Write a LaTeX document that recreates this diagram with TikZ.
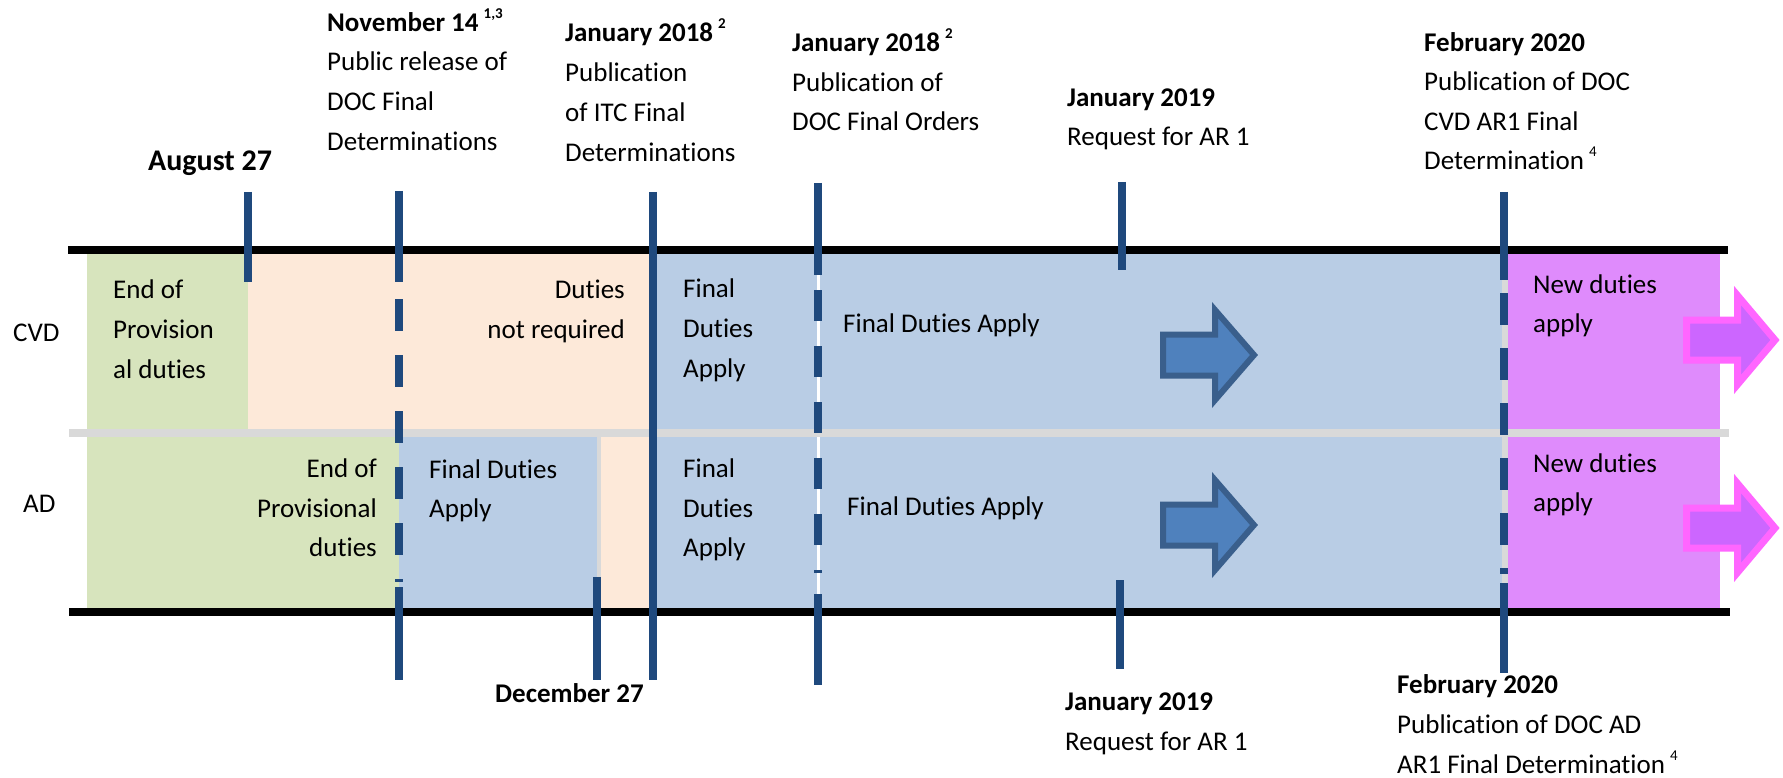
\documentclass[tikz,border=0pt]{standalone}
\usepackage{fontspec}
\setmainfont{Carlito}[Ligatures=NoCommon]
\definecolor{greenbox}{HTML}{D7E4BD}
\definecolor{peachbox}{HTML}{FDE9D9}
\definecolor{bluebox}{HTML}{B9CDE5}
\definecolor{pinkbox}{HTML}{DF8BFC}
\definecolor{tickblue}{HTML}{1F497D}
\definecolor{greyline}{HTML}{D9D9D9}
\definecolor{arrowfill}{HTML}{4F81BD}
\definecolor{arrowedge}{HTML}{3A5F8C}
\definecolor{pinkfill}{HTML}{CC66FF}
\definecolor{pinkedge}{HTML}{FF66FF}
\newcommand\mysup[1]{\hspace{5pt}\raisebox{13pt}{\fontsize{15}{15}\selectfont #1}}
\begin{document}
\begin{tikzpicture}[x=1pt,y=-1pt,
  t/.style={inner sep=0pt, anchor=base west, font=\fontsize{27}{32}\selectfont},
  tr/.style={t, anchor=base east},
  tb/.style={t, font=\fontsize{27}{32}\selectfont\bfseries},
  tick/.style={draw=tickblue, line width=7.5pt},
  band/.style={line width=8pt},
  bluearrow/.style={draw=arrowedge, fill=arrowfill, line width=6pt, line join=miter},
  pinkarrow/.style={draw=pinkedge, fill=pinkfill, line width=7pt, line join=miter}]
\useasboundingbox (0,0) rectangle (1783,778);
% row fills
\fill[greenbox] (87,251) rectangle (248,433);
\fill[peachbox] (248,251) rectangle (653,433);
\fill[bluebox] (653,251) rectangle (1505,433);
\fill[pinkbox] (1505,251) rectangle (1720,433);
\fill[greenbox] (87,433) rectangle (399,610);
\fill[bluebox] (399,433) rectangle (597,610);
\fill[peachbox] (597,433) rectangle (653,610);
\fill[bluebox] (653,433) rectangle (1505,610);
\fill[pinkbox] (1505,433) rectangle (1720,610);
% separators
\draw[white, line width=3pt] (818,254) -- (818,608);
\draw[greyline, line width=6pt] (1505,254) -- (1505,608);
\draw[greyline, line width=4pt] (599,437) -- (599,577);
% horizontal bands
\draw[band, black] (68,250) -- (1728,250);
\draw[band, greyline] (69,433) -- (1729,433);
\draw[band, black] (69,612) -- (1730,612);
% arrows
\foreach \cy in {355,525}{
  \draw[bluearrow] (1163,\cy-20.5) -- (1215,\cy-20.5) -- (1215,\cy-45) -- (1254,\cy) -- (1215,\cy+45) -- (1215,\cy+20.5) -- (1163,\cy+20.5) -- cycle;
}
\foreach \cy in {340,528}{
  \draw[pinkarrow] (1686.5,\cy-20) -- (1737.5,\cy-20) -- (1737.5,\cy-44.5) -- (1775,\cy) -- (1737.5,\cy+44.5) -- (1737.5,\cy+20) -- (1686.5,\cy+20) -- cycle;
}
% ticks
\draw[tick] (248,192) -- (248,282);
\draw[tick] (399,191) -- (399,282);
\draw[tick, dash pattern=on 32pt off 24pt] (399,299) -- (399,582);
\draw[tick] (399,587) -- (399,680);
\draw[tick] (597,577) -- (597,680);
\draw[tick] (653,192) -- (653,680);
\draw[tick] (818,183) -- (818,275);
\draw[tick, dash pattern=on 31pt off 25pt] (818,290) -- (818,573);
\draw[tick] (818,594) -- (818,685);
\draw[tick] (1122,182) -- (1122,270);
\draw[tick] (1120,580) -- (1120,669);
\draw[tick] (1504,192) -- (1504,280);
\draw[tick, dash pattern=on 32pt off 23pt] (1504,293) -- (1504,574);
\draw[tick] (1504,583) -- (1504,673);
% top labels
\node[tb, font=\fontsize{30}{34}\selectfont\bfseries] (aug) at (148,171) {August 27};
\node[tb] (nov0) at (327,32) {November 14\mysup{1,3}};
\node[t] (nov1) at (327,71) {Public release of};
\node[t] (nov2) at (327,111) {DOC Final};
\node[t] (nov3) at (327,151) {Determinations};
\node[tb] (itc0) at (565,42) {January 2018\mysup{2}};
\node[t] (itc1) at (565,82) {Publication};
\node[t] (itc2) at (565,122) {of ITC Final};
\node[t] (itc3) at (565,162) {Determinations};
\node[tb] (ord0) at (792,52) {January 2018\mysup{2}};
\node[t] (ord1) at (792,92) {Publication of};
\node[t] (ord2) at (792,131) {DOC Final Orders};
\node[tb] (rqa0) at (1067,107) {January 2019};
\node[t] (rqa1) at (1067,146) {Request for AR 1};
\node[tb] (feba0) at (1424,52) {February 2020};
\node[t] (feba1) at (1424,91) {Publication of DOC};
\node[t] (feba2) at (1424,131) {CVD AR1 Final};
\node[t] (feba3) at (1424,170) {Determination\mysup{4}};
% bottom labels
\node[tb] (dec) at (495,702) {December 27};
\node[tb] (rqb0) at (1065,710) {January 2019};
\node[t] (rqb1) at (1065,750) {Request for AR 1};
\node[tb] (febb0) at (1397,693) {February 2020};
\node[t] (febb1) at (1397,733) {Publication of DOC AD};
\node[t] (febb2) at (1397,773) {AR1 Final Determination\mysup{4}};
% row labels
\node[t] (cvd) at (13,341) {CVD};
\node[t] (ad) at (23,512) {AD};
% CVD row texts
\node[t] (c1a) at (113,298) {End of};
\node[t] (c1b) at (113,338) {Provision};
\node[t] (c1c) at (113,378) {al duties};
\node[tr] (c2a) at (625,298) {Duties};
\node[tr] (c2b) at (625,338) {not required};
\node[t] (c3a) at (683,297) {Final};
\node[t] (c3b) at (683,337) {Duties};
\node[t] (c3c) at (683,377) {Apply};
\node[t] (c4) at (843,332) {Final Duties Apply};
\node[t] (c5a) at (1533,293) {New duties};
\node[t] (c5b) at (1533,332) {apply};
% AD row texts
\node[tr] (a1a) at (377,477) {End of};
\node[tr] (a1b) at (377,517) {Provisional};
\node[tr] (a1c) at (377,556) {duties};
\node[t] (a2a) at (429,478) {Final Duties};
\node[t] (a2b) at (429,517) {Apply};
\node[t] (a3a) at (683,477) {Final};
\node[t] (a3b) at (683,517) {Duties};
\node[t] (a3c) at (683,556) {Apply};
\node[t] (a4) at (847,515) {Final Duties Apply};
\node[t] (a5a) at (1533,472) {New duties};
\node[t] (a5b) at (1533,511) {apply};
\end{tikzpicture}
\end{document}
